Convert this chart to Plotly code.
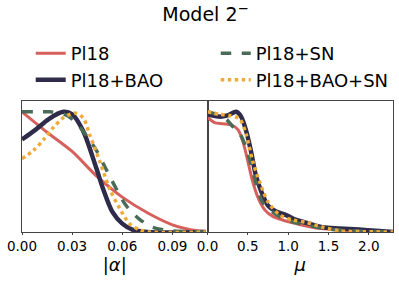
import plotly.graph_objects as go
from plotly.subplots import make_subplots

# ---- data: |alpha| panel ----
alpha_pl18 = [0.0, 0.015, 0.03, 0.045, 0.06, 0.075, 0.09, 0.105, 0.11]
dens_a_pl18 = [1.0, 0.83, 0.67, 0.46, 0.29, 0.16, 0.06, 0.01, 0.005]

alpha_bao = [0.0, 0.008, 0.016, 0.0247, 0.03, 0.0366, 0.0445, 0.0485, 0.054, 0.06, 0.066, 0.075, 0.11]
dens_a_bao = [0.77, 0.85, 0.94, 1.0, 0.98, 0.84, 0.53, 0.36, 0.17, 0.07, 0.02, 0.0, 0.0]

alpha_sn = [0.0, 0.008, 0.017, 0.025, 0.03, 0.0366, 0.0445, 0.0504, 0.0564, 0.0623, 0.070, 0.078, 0.09, 0.11]
dens_a_sn = [1.0, 1.0, 1.0, 0.98, 0.94, 0.84, 0.68, 0.52, 0.36, 0.22, 0.11, 0.04, 0.01, 0.0]

alpha_baosn = [0.0, 0.007, 0.013, 0.0188, 0.0247, 0.0316, 0.0366, 0.0405, 0.0465, 0.0524, 0.0583, 0.0643, 0.070, 0.076, 0.11]
dens_a_baosn = [0.61, 0.68, 0.77, 0.87, 0.95, 0.99, 0.95, 0.81, 0.59, 0.36, 0.20, 0.07, 0.02, 0.0, 0.0]

# ---- data: mu panel ----
mu_pl18 = [0.0, 0.087, 0.19, 0.30, 0.38, 0.44, 0.50, 0.56, 0.63, 0.715, 0.81, 0.93, 1.1, 1.3, 1.55, 1.8, 2.3]
dens_m_pl18 = [0.955, 0.91, 0.90, 0.89, 0.85, 0.75, 0.59, 0.42, 0.28, 0.18, 0.13, 0.10, 0.07, 0.04, 0.02, 0.01, 0.0]

mu_bao = [0.0, 0.149, 0.25, 0.355, 0.417, 0.48, 0.54, 0.60, 0.665, 0.75, 0.85, 0.975, 1.1, 1.26, 1.43, 1.64, 1.88, 2.09, 2.3]
dens_m_bao = [0.98, 0.96, 0.97, 1.0, 0.96, 0.84, 0.67, 0.47, 0.34, 0.22, 0.17, 0.14, 0.10, 0.07, 0.04, 0.03, 0.02, 0.01, 0.0]

mu_sn = [0.0, 0.107, 0.23, 0.31, 0.40, 0.48, 0.54, 0.60, 0.68, 0.80, 0.94, 1.14, 1.35, 1.55, 1.8, 2.3]
dens_m_sn = [1.0, 0.98, 0.94, 0.88, 0.82, 0.70, 0.56, 0.41, 0.25, 0.17, 0.11, 0.07, 0.04, 0.02, 0.01, 0.0]

mu_baosn = [0.0, 0.149, 0.27, 0.40, 0.48, 0.56, 0.65, 0.75, 0.90, 1.06, 1.22, 1.43, 1.64, 1.93, 2.3]
dens_m_baosn = [1.0, 0.98, 0.97, 0.94, 0.81, 0.59, 0.41, 0.25, 0.14, 0.10, 0.08, 0.04, 0.01, 0.003, 0.0]

labels = ["Pl18", "Pl18+BAO", "Pl18+SN", "Pl18+BAO+SN"]
colors = ["#d6605c", "#2f2c4b", "#4a6b57", "#f0aa38"]
dashes = ["solid", "solid", "dash", "dot"]
widths = [3, 4.5, 3.5, 3.5]
ranks = [1, 3, 2, 4]

alpha_sets = [(alpha_pl18, dens_a_pl18), (alpha_bao, dens_a_bao), (alpha_sn, dens_a_sn), (alpha_baosn, dens_a_baosn)]
mu_sets = [(mu_pl18, dens_m_pl18), (mu_bao, dens_m_bao), (mu_sn, dens_m_sn), (mu_baosn, dens_m_baosn)]

alpha_ticks = [0.0, 0.03, 0.06, 0.09]
alpha_ticklabels = ["0.00", "0.03", "0.06", "0.09"]
mu_ticks = [0.0, 0.5, 1.0, 1.5, 2.0]
mu_ticklabels = ["0.0", "0.5", "1.0", "1.5", "2.0"]

fig = make_subplots(rows=1, cols=2, horizontal_spacing=0.0)

for i in range(4):
    xa, ya = alpha_sets[i]
    fig.add_trace(go.Scatter(x=xa, y=ya, mode="lines", name=labels[i],
                             line=dict(color=colors[i], dash=dashes[i], width=widths[i], shape="spline", smoothing=0.8),
                             legendrank=ranks[i], showlegend=True), row=1, col=1)
    xm, ym = mu_sets[i]
    fig.add_trace(go.Scatter(x=xm, y=ym, mode="lines", name=labels[i],
                             line=dict(color=colors[i], dash=dashes[i], width=widths[i], shape="spline", smoothing=0.8),
                             legendrank=ranks[i], showlegend=False), row=1, col=2)

font = "DejaVu Sans, sans-serif"
axis_common = dict(showgrid=False, zeroline=False, showline=True, linecolor="#444", linewidth=1,
                   mirror=True, ticks="outside", ticklen=2, tickcolor="#444", automargin=False,
                   tickfont=dict(family=font, size=13.5, color="black"))

fig.update_xaxes(range=[0, 0.111], tickvals=alpha_ticks, ticktext=alpha_ticklabels,
                 title=dict(text="|<i>α</i>|", font=dict(family=font, size=18, color="black"), standoff=4),
                 row=1, col=1, **axis_common)
fig.update_xaxes(range=[0, 2.3], tickvals=mu_ticks, ticktext=mu_ticklabels,
                 title=dict(text="<i>μ</i>", font=dict(family=font, size=18, color="black"), standoff=4),
                 row=1, col=2, **axis_common)
fig.update_yaxes(range=[0, 1.09], showticklabels=False, ticks="", showgrid=False, zeroline=False,
                 showline=True, linecolor="#444", linewidth=1, mirror=True, automargin=False)

fig.update_layout(
    width=399, height=283,
    margin=dict(l=22, r=6, t=101, b=51, autoexpand=False),
    plot_bgcolor="white", paper_bgcolor="white",
    title=dict(text="Model 2<sup>−</sup>", x=0.515, xref="container", y=0.95, yanchor="middle",
               font=dict(family=font, size=19, color="black")),
    legend=dict(orientation="h", x=0.077, xref="container", y=0.876, yref="container", yanchor="top",
                entrywidth=140, entrywidthmode="pixels",
                font=dict(family=font, size=18, color="black"), bgcolor="rgba(0,0,0,0)",
                traceorder="normal"),
)

fig.write_html("out.html", config={"displayModeBar": False},
               post_script="document.body.style.margin='0px';")
